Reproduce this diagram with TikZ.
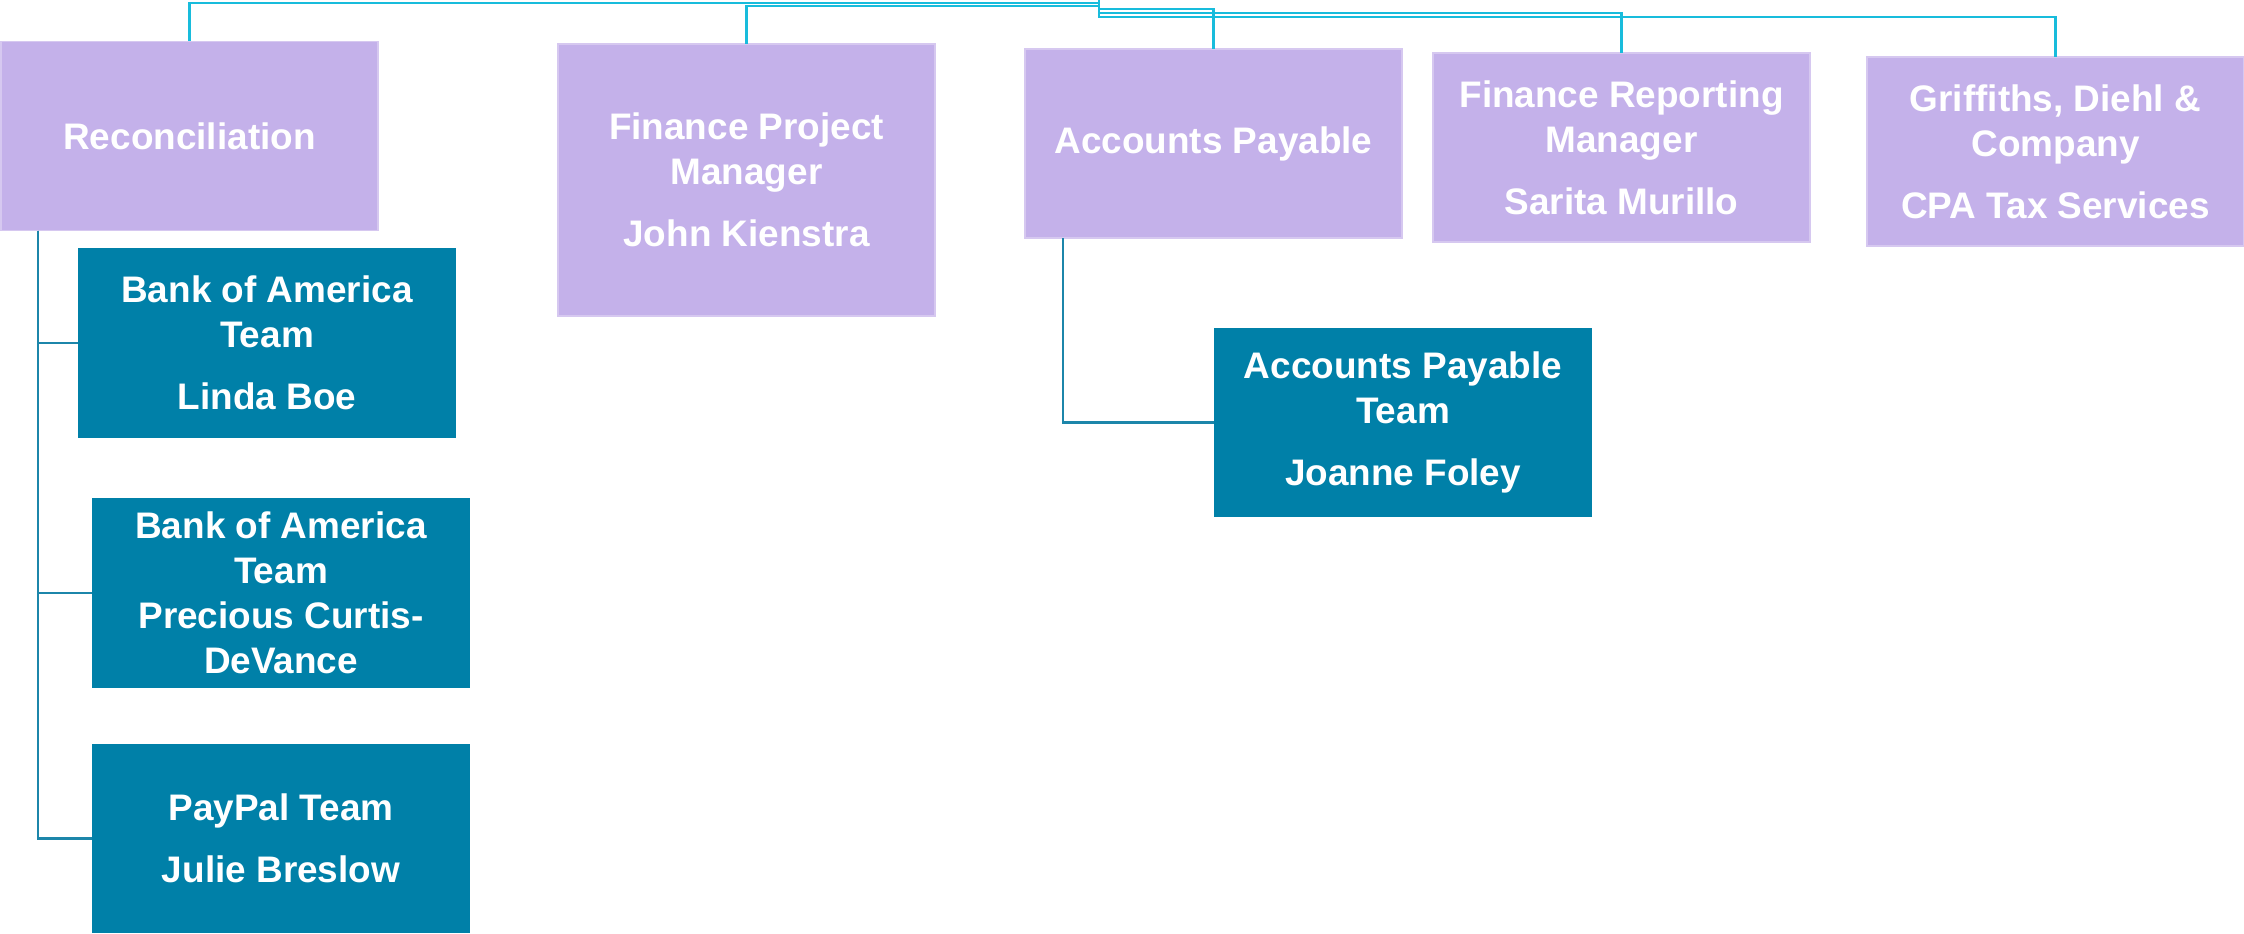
\documentclass[tikz,border=0pt]{standalone}
\usepackage{fontspec}
\setmainfont{Liberation Sans}
\usepackage{xcolor}
\usetikzlibrary{positioning}

\definecolor{lav}{HTML}{C4B1EA}
\definecolor{orgteal}{HTML}{0080A8}
\definecolor{topcyan}{HTML}{18BCDC}
\definecolor{subteal}{HTML}{1C86AA}

\begin{document}
\begin{tikzpicture}[x=0.01cm,y=-0.01cm,
  headbox/.style={fill=lav,draw=lav!70!white,line width=0.4pt,text=white,
    font=\fontsize{10.5}{12.8}\selectfont\bfseries,align=center,
    minimum width=3.77cm,minimum height=1.89cm,inner sep=0pt,outer sep=0pt},
  teambox/.style={headbox,fill=orgteal,draw=none},
  topline/.style={draw=topcyan,line width=0.7pt},
  subline/.style={draw=subteal,line width=0.6pt}]
% page size (pixel units)
\useasboundingbox (0,0) rectangle (2244,934);

% Top row of departments
\node[headbox] (recon) at (189.5,136) {Reconciliation};
\node[headbox,minimum height=2.72cm] (fpm) at (746.5,180) {Finance Project\\Manager\\[0.17cm]John Kienstra};
\node[headbox] (ap) at (1213.5,143.5) {Accounts Payable};
\node[headbox] (frm) at (1621.5,147.5) {Finance Reporting\\Manager\\[0.17cm]Sarita Murillo};
\node[headbox] (cpa) at (2055.5,151.5) {Griffiths, Diehl \&\\Company\\[0.17cm]CPA Tax Services};

% Teams under Reconciliation
\node[teambox] (boa1) at (267,343) {Bank of America\\Team\\[0.17cm]Linda Boe};
\node[teambox] (boa2) at (281,593) {Bank of America\\Team\\Precious Curtis-\\DeVance};
\node[teambox] (paypal) at (281,838.5) {PayPal Team\\[0.17cm]Julie Breslow};

% Team under Accounts Payable
\node[teambox] (apteam) at (1403,422.5) {Accounts Payable\\Team\\[0.17cm]Joanne Foley};

% Lines from the (hidden) head down to each department
\coordinate (hub) at (1099,0);
\draw[topline] (hub) -- ++(0,18);
\foreach \n/\h in {recon/3,fpm/6,ap/9,frm/13,cpa/17} {
  \draw[topline] (hub) ++(0,\h) -| (\n.north);
}

% Lines to the teams
\coordinate (rtrunk) at ([xshift=0.37cm]recon.south west);
\foreach \c in {boa1,boa2,paypal} {
  \draw[subline] (rtrunk) |- (\c.west);
}
\coordinate (aptrunk) at ([xshift=0.38cm]ap.south west);
\draw[subline] (aptrunk) |- (apteam.west);
\end{tikzpicture}
\end{document}
